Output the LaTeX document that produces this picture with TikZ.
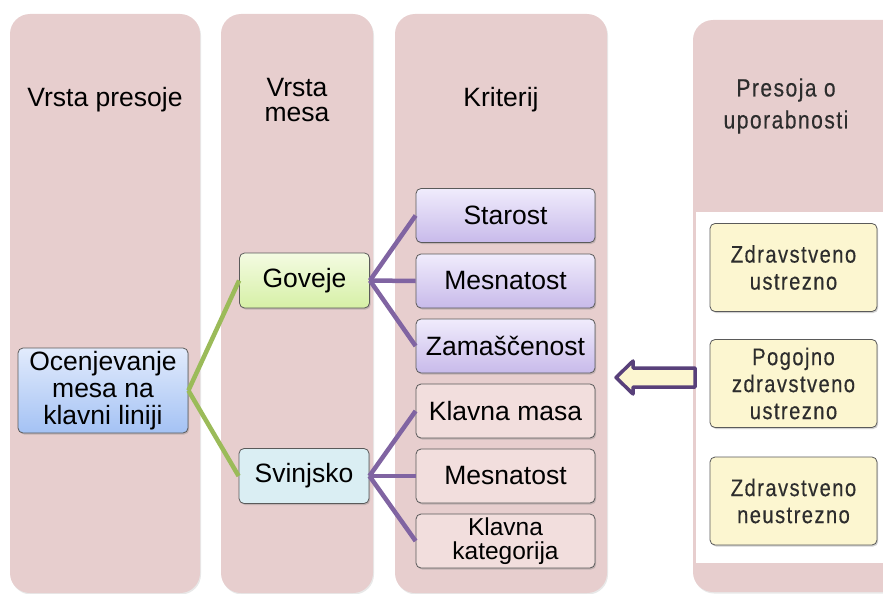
\documentclass[tikz,border=0pt]{standalone}
\usepackage{fontspec}
\setmainfont{Liberation Sans}
\newfontfamily\narrowfont{Liberation Sans}[FakeStretch=0.84,LetterSpace=6,FakeBold=0.35]
\usetikzlibrary{shadows}

\definecolor{panelpink}{RGB}{231,206,206}
\definecolor{critpink}{RGB}{242,222,221}
\definecolor{lavtop}{RGB}{240,236,252}
\definecolor{lavbot}{RGB}{200,186,234}
\definecolor{greentop}{RGB}{244,251,226}
\definecolor{greenbot}{RGB}{214,240,166}
\definecolor{bluetop}{RGB}{226,235,252}
\definecolor{bluebot}{RGB}{164,194,244}
\definecolor{pigcyan}{RGB}{218,238,243}
\definecolor{verdict}{RGB}{252,246,208}
\definecolor{boxline}{RGB}{90,90,90}
\definecolor{linkgreen}{RGB}{155,187,89}
\definecolor{linkpurple}{RGB}{128,100,162}
\definecolor{arrowpurple}{RGB}{88,64,122}
\definecolor{inkgray}{RGB}{45,45,45}

\tikzset{
  x=1pt, y=-1pt,
  panel/.style={fill=panelpink, rounded corners=20pt,
    drop shadow={shadow xshift=1pt, shadow yshift=-1.5pt, opacity=0.18}},
  title/.style={font=\fontsize{26.5}{25}\selectfont, align=center, text=black},
  box/.style={draw=boxline, line width=0.8pt, rounded corners=5pt,
    align=center, inner sep=1pt, text=black,
    font=\fontsize{26.5}{27}\selectfont,
    drop shadow={shadow xshift=1.2pt, shadow yshift=-1.5pt, opacity=0.35}},
  critbox/.style={box, minimum width=179pt, minimum height=54pt},
  cowcrit/.style={critbox, top color=lavtop, bottom color=lavbot},
  pigcrit/.style={critbox, fill=critpink},
  kindbox/.style={box, minimum width=130pt, minimum height=55pt},
  verdictbox/.style={box, fill=verdict, minimum width=167pt, minimum height=88pt,
    font=\narrowfont\fontsize{24}{27}\selectfont, text=inkgray},
  greenlink/.style={draw=linkgreen, line width=4.5pt},
  purplelink/.style={draw=linkpurple, line width=4.5pt},
}

\begin{document}
\begin{tikzpicture}
\useasboundingbox (0,0) rectangle (883,594);
\clip (0,0) rectangle (883,594);

% column panels
\fill[panel] (10,14) rectangle (200,593);
\fill[panel] (221,14) rectangle (373,593);
\fill[panel] (395,14) rectangle (607,593);
\fill[panel] (693,20) rectangle (905,592);
\fill[white] (696,212) rectangle (905,563);

% column headings
\node[title] (h1) at (105,100) {Vrsta presoje};
\node[title] (h2) at (297,100) {Vrsta\\mesa};
\node[title] (h3) at (501,100) {Kriterij};
\node[title, font=\narrowfont\fontsize{25}{32}\selectfont, text=inkgray] (h4) at (786,106) {Presoja o\\uporabnosti};

% tree nodes
\node[box, top color=bluetop, bottom color=bluebot, minimum width=170pt, minimum height=85pt]
  (root) at (103,390.5) {Ocenjevanje\\mesa na\\klavni liniji};
\node[kindbox, top color=greentop, bottom color=greenbot] (cow) at (304.5,280.5) {Goveje};
\node[kindbox, fill=pigcyan] (pig) at (304,476) {Svinjsko};

\node[cowcrit] (c1) at (505.5,215.5) {Starost};
\node[cowcrit] (c2) at (505.5,281) {Mesnatost};
\node[cowcrit] (c3) at (505.5,346) {Zamaščenost};
\node[pigcrit] (p1) at (505.5,411) {Klavna masa};
\node[pigcrit] (p2) at (505.5,476) {Mesnatost};
\node[pigcrit, font=\fontsize{24.5}{24}\selectfont] (p3) at (505.5,541) {Klavna\\kategorija};

% verdict boxes
\node[verdictbox] (v1) at (793.5,267.5) {Zdravstveno\\ustrezno};
\node[verdictbox] (v2) at (793.5,383.5) {Pogojno\\zdravstveno\\ustrezno};
\node[verdictbox] (v3) at (793.5,501) {Zdravstveno\\neustrezno};

% connectors
\draw[greenlink] (root.east) -- (cow.west);
\draw[greenlink] (root.east) -- (pig.west);
\foreach \c in {c1,c2,c3} \draw[purplelink] (cow.east) -- (\c.west);
\foreach \c in {p1,p2,p3} \draw[purplelink] (pig.east) -- (\c.west);

% hollow arrow pointing back to the criteria
\draw[arrowpurple, fill=verdict, line width=3.5pt, line join=round]
  (695,368) -- (633,368) -- (633,361) -- (616,377.5) -- (633,394)
  -- (633,387) -- (695,387) -- cycle;
\end{tikzpicture}
\end{document}
